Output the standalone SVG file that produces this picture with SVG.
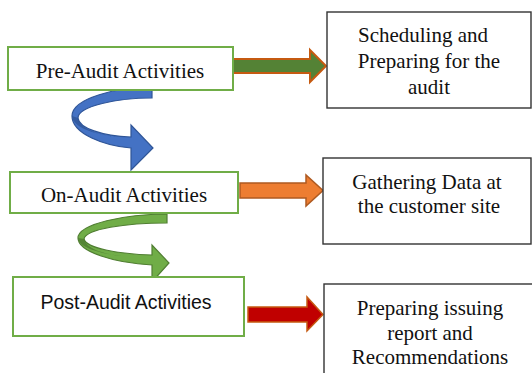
<svg xmlns="http://www.w3.org/2000/svg" width="532" height="373" viewBox="0 0 532 373">
<style>
.lbox{fill:#fff;stroke:#70ad47;stroke-width:2}
.rbox{fill:#fff;stroke:#333;stroke-width:1.4}
.serif{font-family:"Liberation Serif","Times New Roman",serif;font-size:21px;fill:#111;text-anchor:middle}
.sans{font-family:"Liberation Sans",Arial,sans-serif;font-size:19.5px;fill:#111;text-anchor:middle}
</style>
<rect width="532" height="373" fill="#fff"/>
<g id="connectors">
  <path id="arrow-pre" d="M233,59 L310,59 L310,50 L326,66 L310,82 L310,73 L233,73 Z" fill="#548235" stroke="#c55a11" stroke-width="2" stroke-linejoin="miter"/>
  <path id="arrow-on" d="M240,183 L306,183 L306,175 L323,190.5 L306,206 L306,198 L240,198 Z" fill="#ed7d31" stroke="#ae5a21" stroke-width="1.5"/>
  <path id="arrow-post" d="M248,307 L307,307 L307,297 L323,314.5 L307,331 L307,322 L248,322 Z" fill="#c00000" stroke="#c55a11" stroke-width="1.5"/>
  <g id="curve-blue">
    <path d="M152,87 C118,87 72,98 72,116 C72,134 105,146 131,148 L131,170 L153,148 L131,125 L131,137 C102,136 79,128 78,118 C78,106 118,98 152,98 Z" fill="#4472c4" stroke="#2f5597" stroke-width="1.2" stroke-linejoin="miter"/>
    <path d="M72,116 C73,127 92,134 118,137 C96,135 80,128 78,118 Z" fill="#2f5597" opacity="0.8"/>
  </g>
  <g id="curve-green">
    <path d="M167,214 C125,214 78,224 78,238 C78,252 115,263 152,265 L152,282 L169,263 L152,245 L152,255 C118,254 86,248 84,239 C86,229 125,223 167,223 Z" fill="#70ad47" stroke="#507e32" stroke-width="1.2" stroke-linejoin="miter"/>
    <path d="M78,238 C79,247 96,253 122,256 C102,254 86,248 84,239 Z" fill="#507e32" opacity="0.85"/>
  </g>
</g>
<g id="pre-audit">
  <rect class="lbox" x="8" y="47" width="225" height="43"/>
  <text class="serif" x="120" y="78">Pre-Audit Activities</text>
</g>
<g id="on-audit">
  <rect class="lbox" x="10" y="172" width="228" height="41"/>
  <text class="serif" x="124" y="202">On-Audit Activities</text>
</g>
<g id="post-audit">
  <rect class="lbox" x="13" y="277" width="231" height="59"/>
  <text class="sans" x="126" y="309">Post-Audit Activities</text>
</g>
<g id="scheduling">
  <rect class="rbox" x="327" y="12" width="204" height="96"/>
  <text class="serif" x="423" y="42">Scheduling and</text>
  <text class="serif" x="429" y="68">Preparing for the</text>
  <text class="serif" x="429" y="94">audit</text>
</g>
<g id="gathering">
  <rect class="rbox" x="323" y="158" width="208" height="86"/>
  <text class="serif" x="427" y="189">Gathering Data at</text>
  <text class="serif" x="429" y="213">the customer site</text>
</g>
<g id="preparing">
  <rect class="rbox" x="324" y="284" width="210" height="95"/>
  <text class="serif" x="430" y="315">Preparing issuing</text>
  <text class="serif" x="430" y="340">report and</text>
  <text class="serif" x="430" y="364">Recommendations</text>
</g>
</svg>
